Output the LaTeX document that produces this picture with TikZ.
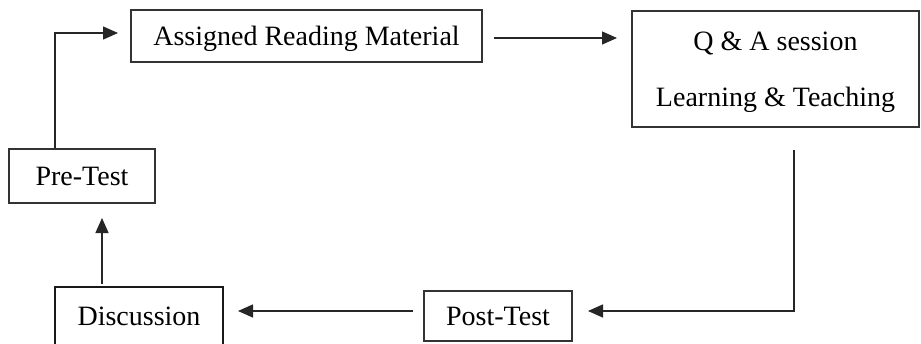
\documentclass[tikz,border=0pt]{standalone}
\usepackage{fontspec}
\setmainfont{Liberation Serif}
\usetikzlibrary{arrows.meta}
\begin{document}
\begin{tikzpicture}[x=1pt,y=-1pt,
  box/.style={draw=black!80, line width=1.3pt, rectangle, inner sep=0pt, text depth=0pt,
    font=\fontsize{28}{56}\selectfont, align=center},
  thickbox/.style={box, line width=2.6pt, draw=black!90},
  arr/.style={draw=black!85, line width=1.4pt, -{Triangle[length=15pt,width=13pt]}}]
\useasboundingbox (0,0) rectangle (921,343);
\node[box, minimum width=351pt, minimum height=52pt] (assigned) at (306.5,36) {Assigned Reading Material};
\node[box, minimum width=287pt, minimum height=116pt] (qa) at (775.5,69) {Q \& A session\\Learning \& Teaching};
\node[box, minimum width=146pt, minimum height=54pt] (pretest) at (82,176) {Pre-Test};
\node[thickbox, minimum width=168pt, minimum height=59pt] (discussion) at (139,316.5) {Discussion};
\node[box, minimum width=148pt, minimum height=50pt] (posttest) at (498,316) {Post-Test};
\coordinate (c1) at (55,33);
\coordinate (e1) at (118,33);
\draw[arr] (pretest.north -| c1) -- (c1) -- (e1);
\coordinate (s2) at (494,38);
\coordinate (e2) at (617,38);
\draw[arr] (s2) -- (e2);
\coordinate (s3) at (794,150);
\coordinate (c3) at (794,311);
\coordinate (e3) at (588,311);
\draw[arr] (s3) -- (c3) -- (e3);
\coordinate (s4) at (413,311);
\coordinate (e4) at (238,311);
\draw[arr] (s4) -- (e4);
\coordinate (s5) at (102,284);
\coordinate (e5) at (102,218);
\draw[arr] (s5) -- (e5);
\end{tikzpicture}
\end{document}
